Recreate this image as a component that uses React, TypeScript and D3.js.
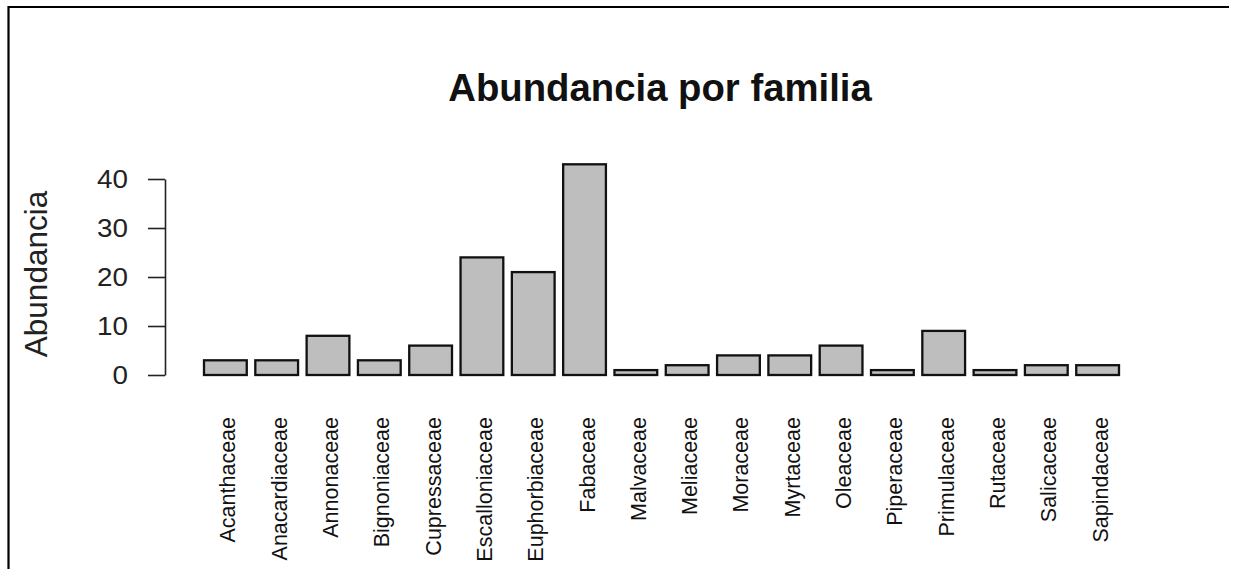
import { useEffect, useRef } from "react";
import * as d3 from "d3";

const familias = [
  "Acanthaceae",
  "Anacardiaceae",
  "Annonaceae",
  "Bignoniaceae",
  "Cupressaceae",
  "Escalloniaceae",
  "Euphorbiaceae",
  "Fabaceae",
  "Malvaceae",
  "Meliaceae",
  "Moraceae",
  "Myrtaceae",
  "Oleaceae",
  "Piperaceae",
  "Primulaceae",
  "Rutaceae",
  "Salicaceae",
  "Sapindaceae",
];
const abundancia = [3, 3, 8, 3, 6, 24, 21, 43, 1, 2, 4, 4, 6, 1, 9, 1, 2, 2];
const yTicks = [0, 10, 20, 30, 40];

const width = 1235;
const height = 569;
const font = "'Liberation Sans', Arial, sans-serif";

const App = () => {
  const ref = useRef<SVGSVGElement | null>(null);

  useEffect(() => {
    document.body.style.margin = "0";
    document.body.style.overflow = "hidden";
    document.documentElement.style.overflow = "hidden";

    const svg = d3.select(ref.current);
    svg.selectAll("*").remove();

    // frame: top and left edges only
    svg
      .append("path")
      .attr("d", `M8.5,${height + 10} V7 H1229`)
      .attr("fill", "none")
      .attr("stroke", "black")
      .attr("stroke-width", 2.2);

    const x = d3
      .scaleBand<string>()
      .domain(familias)
      .range([204, 1119])
      .paddingInner(1 / 6)
      .paddingOuter(0);

    const y = d3.scaleLinear().domain([0, 40]).range([375, 179]);

    svg
      .append("g")
      .selectAll("rect")
      .data(familias)
      .join("rect")
      .attr("x", (d) => x(d)!)
      .attr("y", (d, i) => y(abundancia[i]))
      .attr("width", x.bandwidth())
      .attr("height", (d, i) => y(0) - y(abundancia[i]))
      .attr("fill", "#bebebe")
      .attr("stroke", "#111")
      .attr("stroke-width", 2.3);

    const yAxis = svg
      .append("g")
      .attr("transform", "translate(165,0)")
      .call(d3.axisLeft(y).tickValues(yTicks).tickSize(17).tickSizeOuter(0).tickPadding(20));
    yAxis.select(".domain").attr("stroke", "#222").attr("stroke-width", 1.6);
    yAxis.selectAll(".tick line").attr("stroke", "#222").attr("stroke-width", 1.6);
    yAxis
      .selectAll(".tick text")
      .attr("font-family", font)
      .attr("font-size", 26)
      .attr("fill", "#222")
      .attr("transform", "scale(1.07,1)")
      .attr("x", -37 / 1.07);

    svg
      .append("g")
      .selectAll("text")
      .data(familias)
      .join("text")
      .attr(
        "transform",
        (d) => `translate(${x(d)! + x.bandwidth() / 2 + 10},417) rotate(-90)`
      )
      .attr("text-anchor", "end")
      .attr("font-family", font)
      .attr("font-size", 21.5)
      .attr("fill", "#111")
      .text((d) => d);

    svg
      .append("text")
      .attr("transform", "translate(47,274) rotate(-90)")
      .attr("text-anchor", "middle")
      .attr("font-family", font)
      .attr("font-size", 31.5)
      .attr("fill", "#222")
      .text("Abundancia");

    svg
      .append("text")
      .attr("x", 660)
      .attr("y", 101)
      .attr("text-anchor", "middle")
      .attr("font-family", font)
      .attr("font-size", 38.3)
      .attr("font-weight", "bold")
      .attr("fill", "#111")
      .text("Abundancia por familia");
  }, []);

  return (
    <svg
      ref={ref}
      width={width}
      height={height}
      style={{ position: "absolute", left: 0, top: 0, background: "white", display: "block" }}
    ></svg>
  );
};

export default App;
